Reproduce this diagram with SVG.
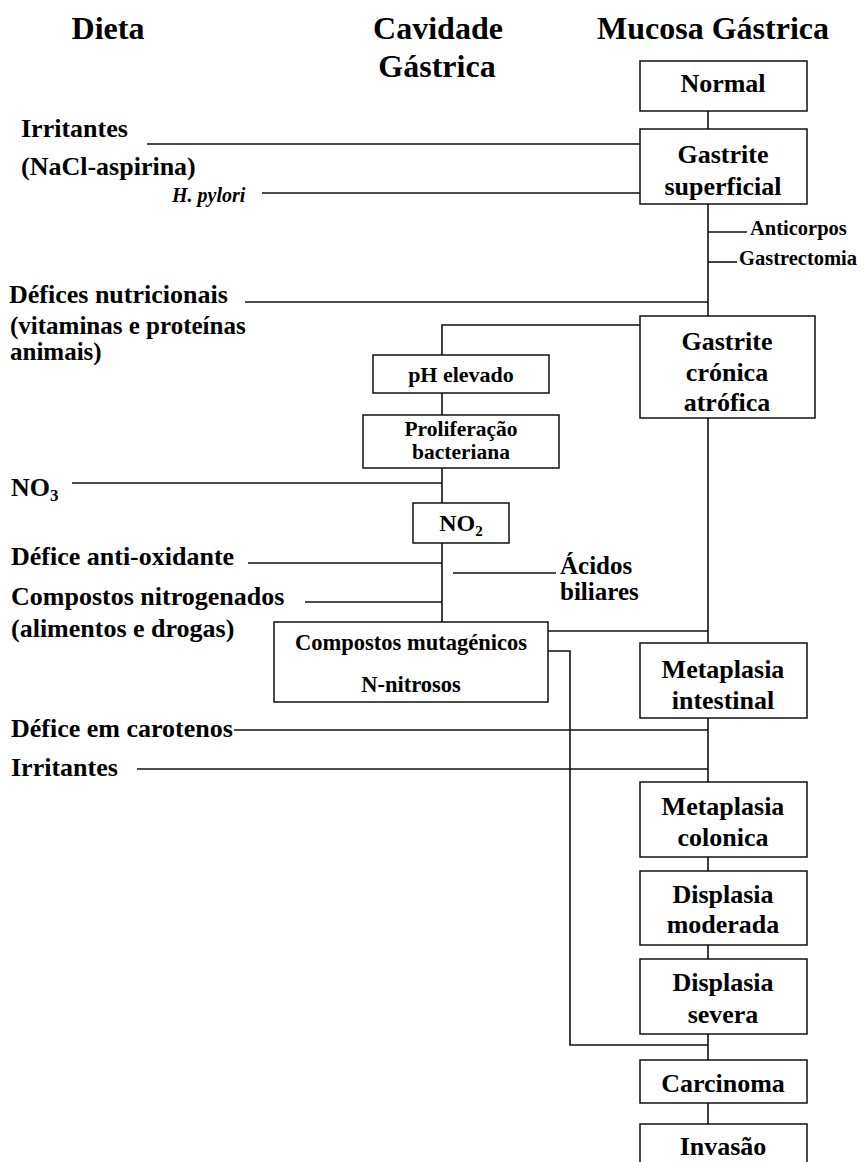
<svg xmlns="http://www.w3.org/2000/svg" width="864" height="1162" viewBox="0 0 864 1162">
<style>
text{font-family:"Liberation Serif","Times New Roman",serif;font-weight:bold;fill:#000}
.h{font-size:32px;text-anchor:middle}
.l{font-size:26px}
.t{font-size:25px}
.b{font-size:26px;text-anchor:middle}
.c{font-size:22px;text-anchor:middle}
.s{font-size:20.5px}
.i{font-size:20px;font-style:italic}
rect{fill:#fff;stroke:#111;stroke-width:1.5}
#connectors path{fill:none;stroke:#111;stroke-width:1.6}
</style>
<rect x="0" y="0" width="864" height="1162" style="fill:#fff;stroke:none"/>
<g id="headers">
<text class="h" x="108" y="39">Dieta</text>
<text class="h" x="438" y="39">Cavidade</text>
<text class="h" x="437" y="77">Gástrica</text>
<text class="h" x="713" y="39">Mucosa Gástrica</text>
</g>
<g id="connectors">
<path d="M708,111V129"/>
<path d="M708,204V316"/>
<path d="M708,232H747"/>
<path d="M708,262H737"/>
<path d="M147,144H640"/>
<path d="M262,193H640"/>
<path d="M245,302H708"/>
<path d="M640,325H442V355"/>
<path d="M442,393V415"/>
<path d="M442,468V503"/>
<path d="M72,483H442"/>
<path d="M442,543V622"/>
<path d="M248,563H442"/>
<path d="M453,573H556"/>
<path d="M305,602H442"/>
<path d="M548,631H708"/>
<path d="M708,418V643"/>
<path d="M548,651H570V1045H708"/>
<path d="M708,718V782"/>
<path d="M234,730H708"/>
<path d="M137,769H708"/>
<path d="M708,857V871"/>
<path d="M708,945V959"/>
<path d="M708,1034V1060"/>
<path d="M708,1103V1124"/>
</g>
<g id="dieta-labels">
<text class="l" x="21" y="137">Irritantes</text>
<text class="l" x="21" y="175">(NaCl-aspirina)</text>
<text class="i" x="172" y="202">H. pylori</text>
<text class="l" x="9" y="303">Défices nutricionais</text>
<text class="t" x="10" y="334">(vitaminas e proteínas</text>
<text class="t" x="10" y="360">animais)</text>
<text class="l" x="11" y="496">NO<tspan font-size="17" dy="5">3</tspan></text>
<text class="l" x="11" y="565">Défice anti-oxidante</text>
<text class="l" x="11" y="605">Compostos nitrogenados</text>
<text class="l" x="11" y="637">(alimentos e drogas)</text>
<text class="l" x="11" y="737">Défice em carotenos</text>
<text class="l" x="11" y="776">Irritantes</text>
</g>
<g id="acidos-biliares">
<text class="t" x="560" y="574">Ácidos</text>
<text class="t" x="560" y="600">biliares</text>
</g>
<g id="anticorpos"><text class="s" x="750" y="235">Anticorpos</text></g>
<g id="gastrectomia"><text class="s" x="739" y="265">Gastrectomia</text></g>
<g id="normal"><rect x="640" y="61" width="167" height="50"/><text class="b" x="723" y="92">Normal</text></g>
<g id="gastrite-superficial"><rect x="640" y="129" width="167" height="75"/><text class="b" x="723" y="163">Gastrite</text><text class="b" x="723" y="195">superficial</text></g>
<g id="gastrite-cronica"><rect x="640" y="316" width="175" height="102"/><text class="b" x="727" y="350">Gastrite</text><text class="b" x="727" y="381">crónica</text><text class="b" x="727" y="411">atrófica</text></g>
<g id="ph-elevado"><rect x="373" y="355" width="176" height="38"/><text class="c" x="461" y="382">pH elevado</text></g>
<g id="proliferacao"><rect x="363" y="415" width="196" height="53"/><text class="c" x="461" y="436" style="font-size:21.5px">Proliferação</text><text class="c" x="461" y="459" style="font-size:21.5px">bacteriana</text></g>
<g id="no2"><rect x="413" y="503" width="96" height="40"/><text class="c" x="461" y="531" style="font-size:24px">NO<tspan font-size="15" dy="5">2</tspan></text></g>
<g id="compostos-mutagenicos"><rect x="274" y="622" width="274" height="80"/><text class="c" x="411" y="650" style="font-size:22.5px">Compostos mutagénicos</text><text class="c" x="411" y="692" style="font-size:22.5px">N-nitrosos</text></g>
<g id="metaplasia-intestinal"><rect x="640" y="643" width="167" height="75"/><text class="b" x="723" y="678">Metaplasia</text><text class="b" x="723" y="709">intestinal</text></g>
<g id="metaplasia-colonica"><rect x="640" y="782" width="167" height="75"/><text class="b" x="723" y="815">Metaplasia</text><text class="b" x="723" y="846">colonica</text></g>
<g id="displasia-moderada"><rect x="640" y="871" width="167" height="74"/><text class="b" x="723" y="903">Displasia</text><text class="b" x="723" y="933">moderada</text></g>
<g id="displasia-severa"><rect x="640" y="959" width="167" height="75"/><text class="b" x="723" y="991">Displasia</text><text class="b" x="723" y="1023">severa</text></g>
<g id="carcinoma"><rect x="640" y="1060" width="167" height="43"/><text class="b" x="723" y="1092">Carcinoma</text></g>
<g id="invasao"><rect x="640" y="1124" width="167" height="50"/><text class="b" x="723" y="1155">Invasão</text></g>
</svg>
